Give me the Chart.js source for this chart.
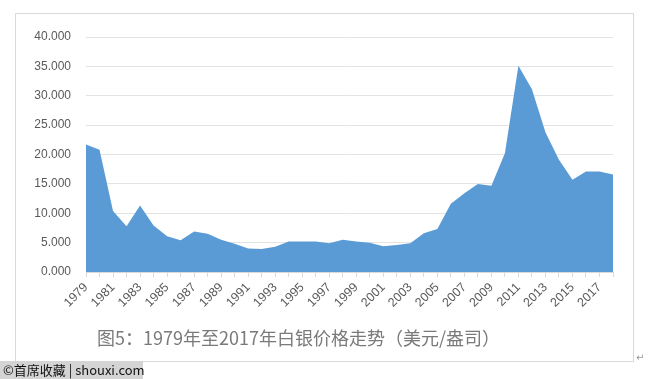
<!DOCTYPE html>
<html>
<head>
<meta charset="utf-8">
<script src="https://cdn.jsdelivr.net/npm/chart.js@4/dist/chart.umd.min.js"></script>
<style>
  html, body { margin: 0; padding: 0; background: #fff; }
  #wrap { position: relative; width: 648px; height: 379px; overflow: hidden; }
  #frame { position: absolute; left: 15px; top: 13px; width: 617px; height: 347px; border: 1px solid #d9d9d9; }
  #chart { position: absolute; left: 0; top: 0; }
  #caption { position: absolute; left: 97px; top: 324px; font: 18px "Noto Sans CJK SC", sans-serif; color: #7a7a7a; white-space: nowrap; line-height: 26px; }
  #mark { position: absolute; left: 0; top: 361px; width: 143px; height: 18px; background: #d4d4d4; font: 13px "Noto Sans CJK SC", sans-serif; color: #111; line-height: 18px; padding-left: 3px; box-sizing: border-box; white-space: nowrap; }
  #ret { position: absolute; left: 636px; top: 352px; font: 10px "DejaVu Sans", sans-serif; color: #999; }
</style>
</head>
<body>
<div id="wrap">
  <div id="frame"></div>
  <canvas id="chart" width="648" height="379"></canvas>
  <div id="caption">图5：1979年至2017年白银价格走势（美元/盎司）</div>
  <div id="mark">©首席收藏 | shouxi.com</div>
  <div id="ret">↵</div>
</div>
<script>
// Dades: preu de la plata (USD/unça), 1979–2018
const years = [];
for (let y = 1979; y <= 2018; y++) years.push(String(y));

const silverPrice = [
  21.7, 20.8, 10.4, 7.8, 11.3, 7.9, 6.1, 5.4, 6.9, 6.5,
  5.5, 4.8, 4.0, 3.9, 4.3, 5.2, 5.2, 5.2, 4.9, 5.5,
  5.2, 5.0, 4.4, 4.6, 4.9, 6.6, 7.3, 11.6, 13.4, 15.0,
  14.7, 20.2, 35.1, 31.1, 23.8, 19.1, 15.7, 17.1, 17.1, 16.6
];

const yTicks = [0, 5, 10, 15, 20, 25, 30, 35, 40];

const COLORS = {
  area: '#5b9bd5',
  grid: '#e3e3e3',
  tick: '#d9d9d9',
  text: '#595959',
};

new Chart(document.getElementById('chart'), {
  type: 'line',
  data: {
    labels: years,
    datasets: [{
      data: silverPrice,
      fill: 'origin',
      backgroundColor: COLORS.area,
      borderColor: COLORS.area,
      borderWidth: 0,
      pointRadius: 0,
      tension: 0,
    }]
  },
  options: {
    responsive: false,
    animation: false,
    layout: { padding: { left: 20, top: 37, right: 35, bottom: 0 } },
    plugins: { legend: { display: false }, tooltip: { enabled: false } },
    scales: {
      x: {
        offset: false,
        grid: { drawOnChartArea: false, drawTicks: true, tickLength: 5, color: COLORS.tick },
        border: { color: COLORS.tick },
        ticks: {
          autoSkip: false,
          maxRotation: 45,
          minRotation: 45,
          padding: 3,
          color: COLORS.text,
          font: { size: 12.5, family: "'Liberation Sans', Arial, sans-serif" },
          callback: (v, i) => (i % 2 === 0 ? years[i] : ''),
        },
        afterFit: s => { s.height = 107; },
      },
      y: {
        min: yTicks[0],
        max: yTicks[yTicks.length - 1],
        afterBuildTicks: s => { s.ticks = yTicks.map(v => ({ value: v })); },
        grid: { color: COLORS.grid, drawTicks: false },
        border: { display: false },
        ticks: {
          padding: 15,
          color: COLORS.text,
          font: { size: 12, family: "'Liberation Sans', Arial, sans-serif" },
          callback: v => Number(v).toFixed(3),
        },
        afterFit: s => { s.width = 66; },
      }
    }
  }
});
</script>
</body>
</html>
